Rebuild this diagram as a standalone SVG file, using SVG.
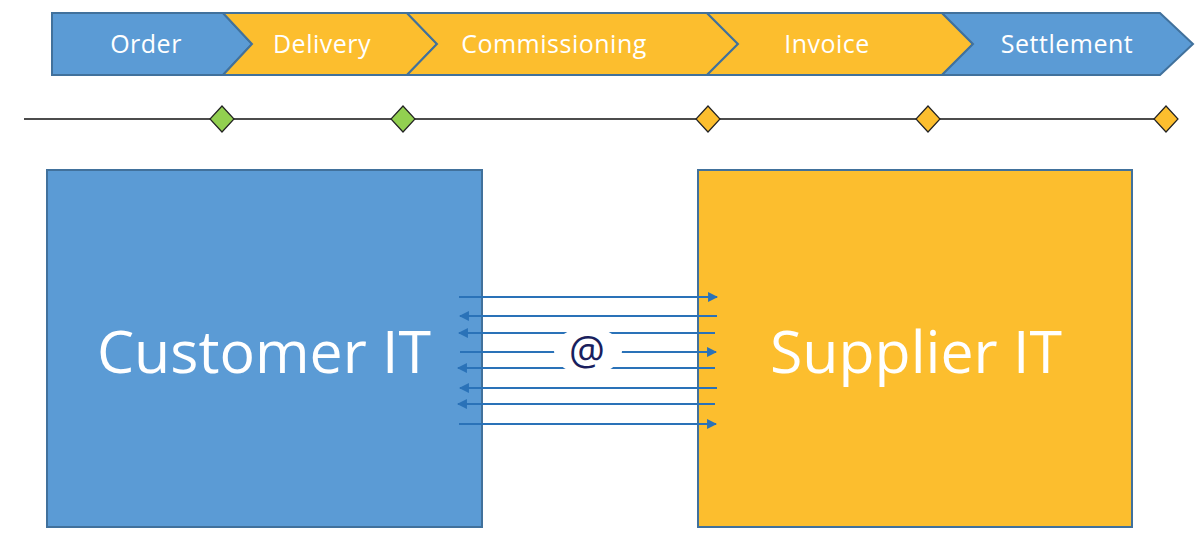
<svg xmlns="http://www.w3.org/2000/svg" width="1200" height="536" viewBox="0 0 1200 536">
<style>
.blue{fill:#5b9bd5;stroke:#41719c;stroke-width:2}
.gold{fill:#fcbe2e;stroke:#41719c;stroke-width:2}
.lbl{font-family:"Open Sans",sans-serif;font-size:25px;letter-spacing:0.5px;fill:#fff;text-anchor:middle}
.big{font-family:"Open Sans",sans-serif;font-size:59px;fill:#fff;text-anchor:middle}
.msg{stroke:#2a72b8;stroke-width:2.2;fill:none}
.dg{fill:#92d050;stroke:#222;stroke-width:1.2}
.dy{fill:#fcbe2e;stroke:#222;stroke-width:1.2}
</style>
<defs>
<marker id="ah" viewBox="0 0 10 10" refX="9" refY="5" markerWidth="5" markerHeight="4.5" orient="auto-start-reverse" markerUnits="strokeWidth">
<path d="M0,0 L10,5 L0,10 z" fill="#2a72b8"/>
</marker>
</defs>
<rect width="1200" height="536" fill="#fff"/>
<g id="phase-order"><polygon class="blue" points="52,13 223,13 252,44 223,75 52,75"/><text class="lbl" x="146" y="53">Order</text></g>
<g id="phase-delivery"><polygon class="gold" points="223,13 407,13 437,44 407,75 223,75 252,44"/><text class="lbl" x="322" y="53">Delivery</text></g>
<g id="phase-commissioning"><polygon class="gold" points="407,13 707,13 738,44 707,75 407,75 437,44"/><text class="lbl" x="554" y="53">Commissioning</text></g>
<g id="phase-invoice"><polygon class="gold" points="707,13 942,13 973,44 942,75 707,75 738,44"/><text class="lbl" x="827" y="53">Invoice</text></g>
<g id="phase-settlement"><polygon class="blue" points="942,13 1160,13 1193,44 1160,75 942,75 973,44"/><text class="lbl" x="1067" y="53">Settlement</text></g>
<g id="timeline">
<line x1="24" y1="119" x2="1166" y2="119" stroke="#111" stroke-width="1.5"/>
<polygon class="dg" points="222,106 234,119 222,132 210,119"/>
<polygon class="dg" points="403,106 415,119 403,132 391,119"/>
<polygon class="dy" points="708,106 720,119 708,132 696,119"/>
<polygon class="dy" points="928,106 940,119 928,132 916,119"/>
<polygon class="dy" points="1166,106 1178,119 1166,132 1154,119"/>
</g>
<g id="customer-it"><rect class="blue" x="47" y="170" width="435" height="357"/><text class="big" x="264" y="373">Customer IT</text></g>
<g id="supplier-it"><rect class="gold" x="698" y="170" width="434" height="357"/><text class="big" x="916" y="373">Supplier IT</text></g>
<g id="connectors">
<line class="msg" x1="459" y1="297" x2="717" y2="297" marker-end="url(#ah)"/>
<line class="msg" x1="717" y1="316" x2="460" y2="316" marker-end="url(#ah)"/>
<line class="msg" x1="715" y1="333" x2="459" y2="333" marker-end="url(#ah)"/>
<line class="msg" x1="460" y1="352" x2="716" y2="352" marker-end="url(#ah)"/>
<line class="msg" x1="715" y1="368" x2="458" y2="368" marker-end="url(#ah)"/>
<line class="msg" x1="717" y1="388" x2="460" y2="388" marker-end="url(#ah)"/>
<line class="msg" x1="715" y1="404" x2="458" y2="404" marker-end="url(#ah)"/>
<line class="msg" x1="459" y1="424" x2="716" y2="424" marker-end="url(#ah)"/>
</g>
<g id="email-label">
<ellipse cx="588" cy="351" rx="34" ry="24" fill="#fff"/>
<text x="587" y="365" font-family="Open Sans, sans-serif" font-size="40" fill="#1a1f5e" text-anchor="middle">@</text>
</g>
</svg>
